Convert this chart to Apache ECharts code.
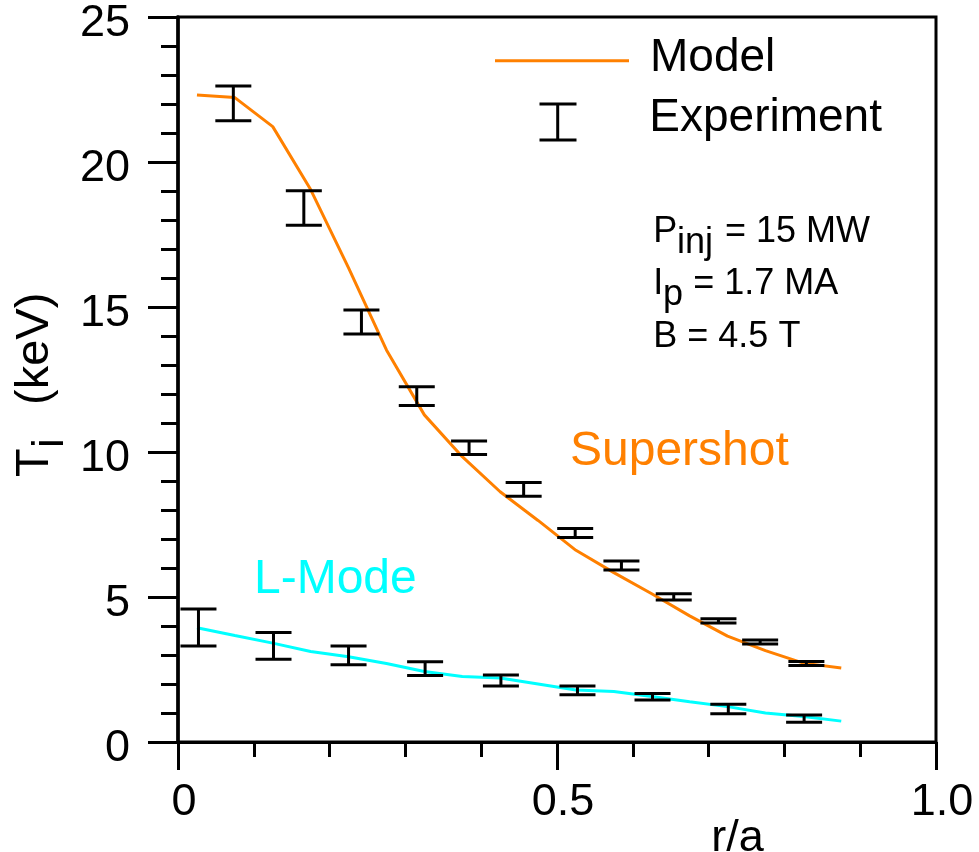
<!DOCTYPE html>
<html>
<head>
<meta charset="utf-8">
<script src="https://cdn.jsdelivr.net/npm/echarts@6/dist/echarts.min.js"></script>
<style>
  html, body { margin: 0; padding: 0; background: #ffffff; }
  #chart { width: 979px; height: 852px; }
</style>
</head>
<body>
<div id="chart"></div>
<script>
// Normalized radius grid of the transport model profiles
const modelR = [0.025, 0.075, 0.125, 0.175, 0.225, 0.275, 0.325, 0.375, 0.425,
                0.475, 0.525, 0.575, 0.625, 0.675, 0.725, 0.775, 0.825, 0.875];
// Model ion temperature (keV)
const supershotModel = [22.31, 22.22, 21.22, 19.05, 16.35, 13.52, 11.28, 9.84, 8.63,
                        7.64, 6.61, 5.84, 5.11, 4.35, 3.65, 3.15, 2.72, 2.55];
const lmodeModel = [3.94, 3.67, 3.41, 3.12, 2.94, 2.71, 2.43, 2.26, 2.21,
                    2.00, 1.79, 1.74, 1.57, 1.39, 1.22, 1.00, 0.88, 0.72];

// Measured ion temperature ranges (keV)
const supershotR    = [0.073, 0.166, 0.242, 0.315, 0.384, 0.456, 0.524, 0.585, 0.654, 0.713, 0.768, 0.829];
const supershotLow  = [21.42, 17.82, 14.07, 11.60, 9.91, 8.47, 7.05, 5.93, 4.90, 4.10, 3.38, 2.64];
const supershotHigh = [22.62, 19.01, 14.90, 12.25, 10.38, 8.95, 7.36, 6.24, 5.11, 4.25, 3.52, 2.78];

const lmodeR    = [0.027, 0.126, 0.225, 0.326, 0.426, 0.527, 0.626, 0.726, 0.826];
const lmodeLow  = [3.31, 2.85, 2.66, 2.29, 1.93, 1.63, 1.45, 0.97, 0.68];
const lmodeHigh = [4.59, 3.78, 3.31, 2.77, 2.31, 1.93, 1.67, 1.30, 0.93];

const FONT = '"Liberation Sans", Arial, Helvetica, sans-serif';
const ORANGE = '#ff8000';
const CYAN = '#00ffff';

const zip = (xs, ys) => xs.map((x, i) => [x, ys[i]]);
const zip3 = (xs, lo, hi) => xs.map((x, i) => [x, lo[i], hi[i]]);

// I-beam error bar drawn through the axis scales
function errorBar(params, api) {
  const r = api.value(0);
  const lo = api.coord([r, api.value(1)]);
  const hi = api.coord([r, api.value(2)]);
  const hw = 18;
  const style = { stroke: '#000', lineWidth: 3, fill: null };
  return {
    type: 'group',
    children: [
      { type: 'line', shape: { x1: hi[0], y1: hi[1], x2: lo[0], y2: lo[1] }, style },
      { type: 'line', shape: { x1: hi[0] - hw, y1: hi[1], x2: hi[0] + hw, y2: hi[1] }, style },
      { type: 'line', shape: { x1: lo[0] - hw, y1: lo[1], x2: lo[0] + hw, y2: lo[1] }, style }
    ]
  };
}

function txt(x, y, text, size, color, align) {
  return {
    type: 'text', x, y, z: 100,
    style: { text, fill: color || '#000', font: size + 'px ' + FONT,
             align: align || 'left', verticalAlign: 'middle' }
  };
}

const chart = echarts.init(document.getElementById('chart'), null, { renderer: 'canvas' });

chart.setOption({
  animation: false,
  backgroundColor: '#ffffff',
  grid: {
    left: 178, top: 17, right: 43, bottom: 110,
    show: true, borderColor: '#000', borderWidth: 3, backgroundColor: 'transparent'
  },
  xAxis: {
    type: 'value', min: 0, max: 1, interval: 0.5,
    axisLine: { show: true, onZero: false, lineStyle: { color: '#000', width: 3 } },
    axisTick: { show: true, length: 28, lineStyle: { color: '#000', width: 3 } },
    minorTick: { show: true, splitNumber: 5, length: 15, lineStyle: { color: '#000', width: 3 } },
    splitLine: { show: false },
    axisLabel: {
      color: '#000', fontSize: 45, fontFamily: FONT, margin: 38,
      padding: [0, 0, 0, 12],
      formatter: v => (v === 0 ? '0' : v.toFixed(1))
    }
  },
  yAxis: {
    type: 'value', min: 0, max: 25, interval: 5,
    axisLine: { show: true, onZero: false, lineStyle: { color: '#000', width: 3.5 } },
    axisTick: { show: true, length: 30, lineStyle: { color: '#000', width: 3 } },
    minorTick: { show: true, splitNumber: 5, length: 17, lineStyle: { color: '#000', width: 3 } },
    splitLine: { show: false },
    axisLabel: {
      color: '#000', fontSize: 45, fontFamily: FONT, margin: 48,
      verticalAlign: 'top', lineHeight: 14
    }
  },
  series: [
    {
      name: 'Supershot model', type: 'line', data: zip(modelR, supershotModel),
      showSymbol: false, symbol: 'none', z: 3,
      lineStyle: { color: ORANGE, width: 3 }
    },
    {
      name: 'L-Mode model', type: 'line', data: zip(modelR, lmodeModel),
      showSymbol: false, symbol: 'none', z: 3,
      lineStyle: { color: CYAN, width: 3 }
    },
    {
      name: 'Supershot experiment', type: 'custom', renderItem: errorBar, z: 5,
      encode: { x: 0, y: [1, 2] }, data: zip3(supershotR, supershotLow, supershotHigh)
    },
    {
      name: 'L-Mode experiment', type: 'custom', renderItem: errorBar, z: 5,
      encode: { x: 0, y: [1, 2] }, data: zip3(lmodeR, lmodeLow, lmodeHigh)
    }
  ],
  graphic: [
    // legend
    { type: 'line', z: 100, shape: { x1: 495, y1: 60.7, x2: 629, y2: 60.7 },
      style: { stroke: ORANGE, lineWidth: 3 } },
    txt(650, 58.5, 'Model', 46),
    { type: 'line', z: 100, shape: { x1: 557.7, y1: 104, x2: 557.7, y2: 140 },
      style: { stroke: '#000', lineWidth: 3 } },
    { type: 'line', z: 100, shape: { x1: 539.5, y1: 104, x2: 576.5, y2: 104 },
      style: { stroke: '#000', lineWidth: 3 } },
    { type: 'line', z: 100, shape: { x1: 539.5, y1: 140, x2: 576.5, y2: 140 },
      style: { stroke: '#000', lineWidth: 3 } },
    txt(649.3, 118, 'Experiment', 46),

    // discharge parameters
    txt(653.3, 231.7, 'P', 36),
    txt(677, 243.5, 'inj', 36),
    txt(725, 231.7, '= 15 MW', 36),
    txt(653.3, 284.1, 'I', 36),
    txt(663, 294.8, 'p', 36),
    txt(693.3, 284.1, '= 1.7 MA', 36),
    txt(653.3, 337.4, 'B = 4.5 T', 36),

    // regime labels
    txt(570, 451.5, 'Supershot', 48, ORANGE),
    txt(254, 580, 'L-Mode', 48, CYAN),

    // x axis title
    txt(737.5, 839, 'r/a', 45, '#000', 'center'),

    // y axis title, reading upward
    {
      type: 'group', x: 51.7, y: 477, rotation: Math.PI / 2, z: 100,
      children: [
        { type: 'text', x: 0, y: -16.5,
          style: { text: 'T', fill: '#000', font: '47px ' + FONT, align: 'left', verticalAlign: 'middle' } },
        { type: 'text', x: 29, y: -1,
          style: { text: 'i', fill: '#000', font: '44px ' + FONT, align: 'left', verticalAlign: 'middle' } },
        { type: 'text', x: 72, y: -16.5,
          style: { text: '(keV)', fill: '#000', font: '47px ' + FONT, align: 'left', verticalAlign: 'middle' } }
      ]
    }
  ]
});
</script>
</body>
</html>
